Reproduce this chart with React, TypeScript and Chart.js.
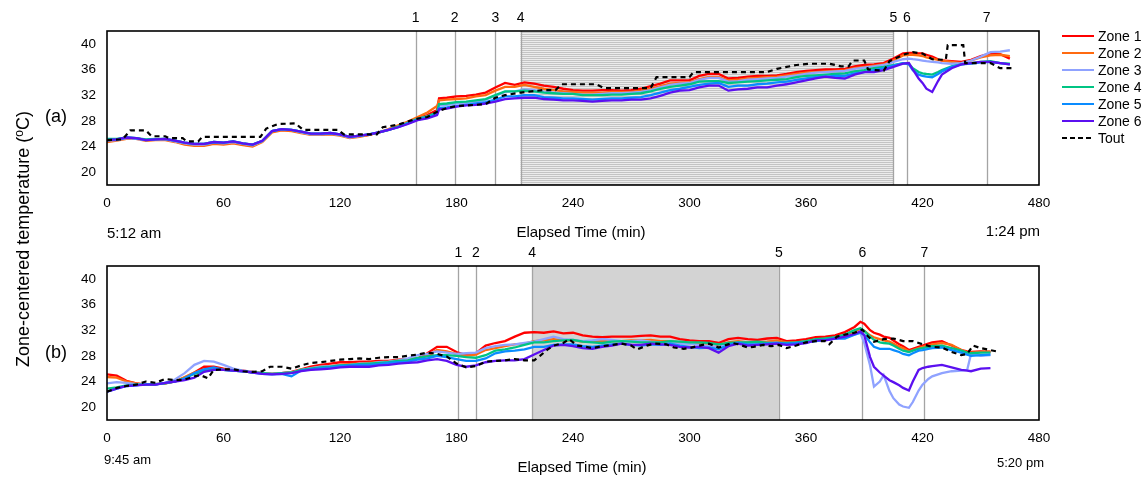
import React, { useEffect, useRef } from "react";
import { Chart, registerables } from "chart.js";

Chart.register(...registerables);

const FONT = "Arial, 'Liberation Sans', Helvetica, sans-serif";

const zoneNames = ["Zone 1", "Zone 2", "Zone 3", "Zone 4", "Zone 5", "Zone 6"];
const zoneColors = ["#ff0000", "#ff6a10", "#8fa2ff", "#00c483", "#0a8cff", "#5b10f0"];
const toutName = "Tout";

const xTicks = [0, 60, 120, 180, 240, 300, 360, 420, 480];
const yTicks = [20, 24, 28, 32, 36, 40];

// ---------- panel (a) ----------
const timesA = [
  0, 5, 10, 15, 20, 25, 30, 35, 40, 45,
  50, 55, 60, 65, 70, 75, 80, 85, 90, 95,
  100, 105, 110, 115, 120, 125, 130, 135, 140, 145,
  150, 155, 160, 165, 170, 171,
  175, 180, 185, 190, 195, 200, 205, 210, 215, 220,
  225, 230, 235, 240, 245, 250, 255, 260, 265, 270,
  275, 280, 285, 290, 295, 300, 305, 310, 315, 320,
  325, 330, 335, 340, 345, 350, 355, 360, 365, 370,
  375, 380, 385, 390, 395, 400, 405, 410,
  413, 415, 418, 420, 422, 425, 428, 430,
  435, 440, 445, 450, 455, 460, 465,
];
const zone1A = [
  25.0, 25.1, 25.3, 25.3, 25.0, 25.1, 25.1, 24.8, 24.4, 24.2,
  24.2, 24.5, 24.4, 24.6, 24.3, 24.1, 24.8, 26.3, 26.6, 26.5,
  26.2, 25.9, 25.9, 26.0, 25.8, 25.4, 25.6, 25.8, 26.2, 26.6,
  27.1, 27.7, 28.4, 28.9, 29.7, 31.5,
  31.6, 31.8, 31.9, 32.1, 32.4, 33.2, 33.9, 33.6, 34.0, 33.8,
  33.5, 33.3, 33.0, 32.8, 32.7, 32.7, 32.8, 32.8, 32.7, 32.8,
  33.0, 33.4, 33.8, 34.3, 34.3, 34.3, 35.0, 35.3, 35.3, 34.6,
  34.7, 34.9, 35.0, 35.0, 35.1, 35.3, 35.6, 35.8, 35.9, 36.0,
  36.0, 36.1, 36.5, 36.7, 36.8, 37.0, 37.7, 38.5,
  38.6, 38.6, 38.5, 38.5, 38.3, 38.0, 37.6, 37.4,
  37.3, 37.2, 37.5, 38.1, 38.5, 38.4, 37.7,
];
const zone2A = [
  24.7, 24.9, 25.2, 25.2, 24.9, 25.0, 25.0, 24.7, 24.3, 24.1,
  24.1, 24.4, 24.3, 24.5, 24.2, 24.0, 24.7, 26.2, 26.5, 26.4,
  26.1, 25.8, 25.8, 25.9, 25.7, 25.3, 25.5, 25.8, 26.2, 26.7,
  27.3, 27.9, 28.6, 29.3, 30.3, 31.2,
  31.3, 31.4, 31.5, 31.8, 32.0, 32.7, 33.3, 33.3, 33.6, 33.3,
  33.0, 32.8, 32.6, 32.5, 32.4, 32.4, 32.4, 32.5, 32.5, 32.5,
  32.7, 33.0, 33.4, 33.8, 33.9, 34.0, 34.5, 34.8, 34.8, 34.3,
  34.4, 34.6, 34.7, 34.8, 34.9, 35.1, 35.3, 35.5, 35.6, 35.7,
  35.8, 35.9, 36.2, 36.4, 36.6, 36.8, 37.4, 38.2,
  38.3, 38.3, 38.2, 38.1, 37.9, 37.7, 37.5, 37.4,
  37.2, 37.0, 37.4, 37.9, 38.2, 38.3, 38.1,
];
const zone3A = [
  24.9, 25.0, 25.3, 25.2, 25.0, 25.1, 25.1, 24.8, 24.5, 24.3,
  24.3, 24.6, 24.5, 24.7, 24.4, 24.2, 24.8, 26.4, 26.7, 26.6,
  26.2, 25.9, 25.9, 26.0, 25.8, 25.4, 25.6, 25.9, 26.2, 26.6,
  27.1, 27.7, 28.3, 28.7, 29.2, 30.4,
  30.5, 30.7, 30.8, 31.0, 31.3, 31.9, 32.5, 32.6, 32.9, 32.8,
  32.5, 32.4, 32.3, 32.2, 32.1, 32.1, 32.2, 32.3, 32.3, 32.4,
  32.5, 32.8, 33.2, 33.6, 33.8, 33.9, 34.4, 34.7, 34.7, 34.1,
  34.2, 34.4, 34.5, 34.6, 34.7, 34.9, 35.1, 35.3, 35.5, 35.6,
  35.7, 35.8, 36.1, 36.3, 36.5, 36.7, 37.2, 37.6,
  37.7, 37.6, 37.5, 37.4, 37.3, 37.2, 37.1, 37.0,
  36.9, 37.0, 37.4, 38.0, 38.7, 38.8, 39.0,
];
const zone4A = [
  25.2, 25.2, 25.4, 25.3, 25.1, 25.2, 25.2, 24.9, 24.6, 24.4,
  24.4, 24.7, 24.6, 24.8, 24.5, 24.3, 24.9, 26.4, 26.7, 26.6,
  26.3, 26.0, 26.0, 26.1, 25.9, 25.5, 25.7, 25.9, 26.2, 26.6,
  27.1, 27.7, 28.3, 28.7, 29.3, 30.6,
  30.7, 30.9, 31.0, 31.2, 31.4, 32.0, 32.6, 32.6, 32.7, 32.6,
  32.4, 32.3, 32.2, 32.2, 32.0, 32.0, 32.0, 32.1, 32.1, 32.2,
  32.3, 32.6, 33.0, 33.3, 33.5, 33.7, 34.1, 34.2, 34.2, 33.9,
  34.0, 34.1, 34.2, 34.3, 34.4, 34.5, 34.8, 35.0, 35.1, 35.2,
  35.3, 35.4, 35.7, 35.9, 36.2, 36.4, 36.7, 37.0,
  36.9, 36.2, 35.6, 35.4, 35.3, 35.2, 35.6, 35.9,
  36.5, 36.8, 37.0, 37.2, 37.3, 37.0, 36.9,
];
const zone5A = [
  25.0, 25.1, 25.4, 25.3, 25.0, 25.1, 25.2, 24.9, 24.6, 24.4,
  24.4, 24.7, 24.6, 24.8, 24.5, 24.3, 24.9, 26.4, 26.7, 26.6,
  26.3, 26.0, 26.0, 26.1, 25.9, 25.5, 25.7, 25.9, 26.2, 26.6,
  27.0, 27.6, 28.2, 28.5, 29.0, 30.0,
  30.1, 30.3, 30.5, 30.7, 30.9, 31.3, 31.8, 31.8, 32.0, 32.0,
  31.7, 31.6, 31.5, 31.5, 31.4, 31.3, 31.4, 31.5, 31.5, 31.6,
  31.7, 32.0, 32.4, 32.8, 33.0, 33.3, 33.6, 33.8, 33.9, 33.3,
  33.5, 33.5, 33.7, 33.8, 34.0, 34.1, 34.4, 34.6, 34.8, 34.9,
  35.0, 35.0, 35.4, 35.6, 35.9, 36.2, 36.6, 37.0,
  36.8, 35.9, 35.2, 35.0, 34.9, 34.8, 35.3, 35.7,
  36.4, 36.8, 36.9, 37.1, 37.2, 37.0, 36.8,
];
const zone6A = [
  25.0, 25.1, 25.4, 25.3, 25.0, 25.1, 25.2, 24.9, 24.6, 24.4,
  24.4, 24.7, 24.6, 24.8, 24.5, 24.3, 24.9, 26.4, 26.7, 26.6,
  26.3, 26.0, 26.0, 26.1, 25.9, 25.5, 25.7, 25.9, 26.2, 26.6,
  27.0, 27.5, 28.1, 28.4, 28.9, 29.8,
  29.9, 30.2, 30.4, 30.5, 30.7, 31.0, 31.4, 31.5, 31.6, 31.6,
  31.4, 31.3, 31.2, 31.2, 31.1, 31.0, 31.1, 31.2, 31.2, 31.3,
  31.3, 31.5, 31.9, 32.4, 32.7, 32.8, 33.2, 33.5, 33.5, 32.7,
  32.9, 33.0, 33.2, 33.2, 33.5, 33.7, 34.0, 34.3, 34.6, 34.9,
  34.7, 34.6, 35.2, 35.6, 35.6, 35.9, 36.4, 36.9,
  37.0, 36.0, 34.6, 33.9, 33.0, 32.5, 34.2, 35.2,
  36.2, 36.8, 37.0, 37.2, 37.2, 37.0, 36.8,
];
const toutTimesA = [
  0, 8, 12, 20, 23, 30, 32, 39, 41, 47,
  49, 79, 82, 88, 97, 101, 119, 122, 139, 142,
  150, 159, 165, 170, 175, 180, 195, 200, 205, 213,
  225, 231, 234, 252, 256, 280, 283, 300, 302, 340,
  345, 355, 362, 372, 378, 382, 384, 390, 392, 400,
  403, 410, 415, 420, 425, 432, 433, 441, 442, 455,
  460, 466,
];
const toutA = [
  25.0, 25.1, 26.5, 26.5, 25.6, 25.6, 25.3, 25.3, 24.8, 24.8,
  25.5, 25.5, 26.8, 27.5, 27.6, 26.6, 26.6, 25.9, 25.9, 27.0,
  27.4, 28.3, 28.6, 29.4, 30.0, 30.3, 30.6, 31.6, 32.0, 32.4,
  32.8, 32.8, 33.7, 33.7, 33.1, 33.1, 34.8, 34.8, 35.6, 35.6,
  36.1, 36.7, 36.9, 36.9, 36.5, 36.5, 37.4, 37.4, 36.0, 35.8,
  37.3, 38.3, 38.7, 38.5, 37.6, 37.5, 39.8, 39.8, 37.0, 37.0,
  36.2, 36.2,
];
const eventsA = [159, 179, 200, 213, 405, 412, 453];
const eventLabelsA = ["1", "2", "3", "4", "5", "6", "7"];
const shadeA = [213, 405];

// ---------- panel (b) ----------
const timesB = [
  0, 5, 10, 15, 20, 25, 30, 35, 40, 45,
  50, 55, 60, 65, 70, 75, 80, 85, 90, 95,
  100, 105, 110, 115, 120, 125, 130, 135, 140, 145,
  150, 155, 160, 165, 170, 175, 180, 185, 190, 195,
  200, 205, 210, 215, 220, 225, 230, 235, 240, 245,
  250, 255, 260, 265, 270, 275, 280, 285, 290, 295,
  300, 305, 310, 315, 320, 325, 330, 335, 340, 345,
  350, 355, 360, 365, 370, 375, 380, 385,
  388, 390, 393, 395, 398, 400, 403, 405, 408, 410, 413, 415, 418, 420, 423, 425,
  430, 435, 440, 443, 445, 450, 455,
];
const zone1B = [
  25.1, 24.9, 24.1, 23.7, 23.5, 23.6, 23.7, 24.0, 24.6, 25.4,
  26.3, 26.3, 26.0, 25.8, 25.7, 25.5, 25.3, 25.2, 25.3, 25.5,
  25.9, 26.3, 26.6, 26.8, 27.0, 27.0, 27.1, 27.1, 27.2, 27.2,
  27.4, 27.5, 27.6, 28.4, 29.4, 29.4, 28.6, 28.1, 28.4, 29.6,
  30.0, 30.3, 31.0, 31.6, 31.7, 31.6, 31.8, 31.5, 31.6, 31.2,
  31.0, 30.9, 31.0, 31.0, 31.0, 31.1, 31.2, 31.0, 31.0, 30.6,
  30.4, 30.3, 30.3, 30.0, 30.6, 30.8, 30.6, 30.5, 30.7, 30.8,
  30.3, 30.4, 30.6, 30.9, 31.0, 31.2, 31.7, 32.5,
  33.3, 33.0, 32.0, 31.6, 31.3, 31.0, 30.8, 30.4, 29.8, 29.5, 28.9, 29.1, 29.4, 29.6, 29.9, 30.1,
  30.3, 29.6, 28.9, 28.7, 28.6, 28.7, 28.6,
];
const zone2B = [
  24.7, 24.6, 24.0, 23.7, 23.5, 23.6, 23.7, 24.0, 24.7, 25.4,
  25.9, 26.0, 25.9, 25.8, 25.6, 25.4, 25.3, 25.2, 25.3, 25.4,
  25.8, 26.1, 26.3, 26.4, 26.6, 26.7, 26.8, 26.9, 27.0, 27.1,
  27.3, 27.4, 27.6, 28.0, 28.9, 28.7, 28.3, 28.0, 28.2, 28.9,
  29.2, 29.5, 29.8, 29.9, 30.3, 30.4, 30.6, 30.4, 30.4, 30.2,
  30.2, 30.3, 30.3, 30.3, 30.4, 30.4, 30.5, 30.3, 30.3, 30.1,
  30.0, 29.9, 29.9, 29.7, 30.1, 30.3, 30.1, 30.1, 30.2, 30.4,
  30.1, 30.1, 30.3, 30.5, 30.6, 30.8, 31.2, 31.8,
  32.2, 31.9, 31.2, 30.9, 30.6, 30.4, 30.2, 29.9, 29.4, 29.2, 28.7, 28.9, 29.2, 29.4, 29.6, 29.8,
  30.0, 29.7, 28.9, 28.6, 28.5, 28.6, 28.7,
];
const zone3B = [
  23.7, 23.9, 23.8, 23.6, 23.5, 23.6, 23.8, 24.3, 25.3, 26.6,
  27.2, 27.1, 26.6, 26.0, 25.7, 25.5, 25.3, 25.2, 25.3, 25.4,
  25.8, 26.1, 26.3, 26.4, 26.5, 26.6, 26.8, 26.8, 27.0, 27.1,
  27.3, 27.6, 28.1, 28.3, 28.7, 28.5, 28.3, 28.4, 28.5, 29.2,
  29.5, 29.7, 29.8, 30.0, 30.2, 30.6, 31.0, 30.6, 30.5, 30.3,
  30.4, 30.6, 30.5, 30.3, 30.3, 30.4, 30.2, 30.1, 30.0, 29.9,
  29.9, 29.7, 29.5, 29.4, 29.9, 30.1, 30.0, 29.9, 30.0, 30.0,
  29.9, 30.0, 30.2, 30.4, 30.5, 30.7, 31.0, 31.3,
  31.6, 30.0, 26.5, 23.2, 24.0, 25.0, 22.5, 21.4, 20.4, 20.1, 19.9, 20.8, 22.6, 23.5, 24.4, 24.8,
  25.3, 25.6, 25.7, 25.8, 28.3, 28.0, 28.1,
];
const zone4B = [
  22.9, 23.1, 23.4, 23.5, 23.5, 23.6, 23.7, 24.0, 24.5, 25.2,
  25.6, 25.8, 25.8, 25.7, 25.6, 25.4, 25.3, 25.2, 25.3, 25.4,
  25.8, 26.0, 26.2, 26.3, 26.5, 26.6, 26.7, 26.8, 26.9, 27.0,
  27.2, 27.3, 27.7, 27.9, 28.1, 28.1, 28.0, 27.8, 27.7, 28.1,
  28.8, 29.0, 29.3, 29.7, 30.1, 30.1, 30.3, 30.4, 30.5, 30.2,
  30.1, 30.0, 30.2, 30.3, 30.2, 30.1, 30.1, 30.1, 30.3, 30.2,
  30.1, 30.1, 30.0, 29.8, 30.0, 30.1, 30.1, 30.2, 30.0, 30.0,
  30.0, 30.1, 30.3, 30.6, 30.7, 30.9, 31.3, 32.0,
  32.3, 31.9, 31.0, 30.5, 30.1, 30.0, 29.9, 29.6, 29.1, 28.8, 28.6, 28.8, 29.1, 29.2, 29.4, 29.5,
  29.6, 29.2, 28.8, 28.5, 28.4, 28.5, 28.5,
];
const zone5B = [
  22.4, 22.9, 23.3, 23.4, 23.6, 23.5, 23.8, 24.0, 24.5, 25.3,
  25.9, 26.2, 25.8, 25.7, 25.6, 25.4, 25.2, 25.1, 25.2, 24.8,
  25.7, 25.9, 26.1, 26.2, 26.4, 26.5, 26.6, 26.6, 26.7, 26.9,
  27.0, 27.1, 27.4, 27.6, 28.0, 27.8, 27.5, 27.2, 27.2, 27.6,
  28.4, 28.7, 28.8, 29.0, 29.4, 29.4, 29.7, 29.8, 29.8, 29.5,
  29.4, 29.6, 29.8, 29.9, 29.7, 29.6, 29.8, 29.7, 29.9, 29.6,
  29.4, 29.2, 29.3, 29.0, 29.7, 30.0, 29.8, 29.8, 29.9, 30.0,
  29.9, 30.0, 30.1, 30.3, 30.5, 30.7, 30.7, 31.3,
  31.6, 31.3, 30.1, 29.4, 29.1, 29.1, 29.1, 28.9, 28.6, 28.3, 28.1, 28.4, 28.8, 28.9, 29.1, 29.2,
  29.3, 28.9, 28.5, 28.2, 28.0, 28.1, 28.2,
];
const zone6B = [
  22.4, 22.9, 23.3, 23.4, 23.5, 23.5, 23.8, 24.0, 24.2, 24.6,
  25.5, 25.8, 25.8, 25.7, 25.6, 25.4, 25.2, 25.1, 25.2, 25.3,
  25.6, 25.8, 25.9, 26.0, 26.2, 26.3, 26.3, 26.3, 26.5, 26.6,
  26.8, 26.9, 27.0, 27.3, 27.5, 27.2, 26.6, 26.3, 26.5, 27.0,
  27.2, 27.3, 27.3, 27.5, 28.2, 28.9, 29.6, 29.7, 29.5, 29.2,
  29.1, 29.4, 29.6, 29.9, 29.7, 29.7, 29.9, 29.8, 29.7, 29.4,
  29.3, 29.4, 29.2, 28.5, 29.5, 29.9, 29.6, 29.7, 29.8, 29.9,
  29.7, 29.8, 30.0, 30.4, 30.4, 30.7, 31.0, 31.4,
  31.8, 31.2, 27.8, 26.3, 25.4, 24.9, 24.2, 23.9, 23.4, 23.0, 22.6, 24.0, 25.8, 26.1, 26.3, 26.4,
  26.6, 26.2, 25.8, 25.7, 25.6, 26.0, 26.1,
];
const toutTimesB = [
  0, 5, 10, 15, 20, 25, 30, 35, 40, 45,
  48, 52, 55, 60, 65, 70, 75, 80, 84, 90,
  95, 100, 105, 110, 115, 120, 125, 130, 135, 140,
  145, 150, 155, 160, 165, 170, 175, 180, 185, 190,
  195, 200, 205, 210, 215, 220, 223, 227, 230, 235,
  238, 242, 245, 250, 255, 260, 265, 270, 273, 278,
  282, 288, 292, 297, 300, 305, 310, 315, 318, 322,
  325, 330, 333, 338, 342, 346, 350, 355, 360, 365,
  370, 372, 376, 380, 385, 389, 392, 395, 400, 405,
  410, 415, 420, 425, 430, 435, 440, 443, 446, 450,
  458,
];
const toutB = [
  22.4, 23.0, 23.3, 23.5, 24.0, 23.8, 24.4, 24.2, 24.3, 24.8,
  25.0, 24.5, 25.8, 25.9, 25.9, 25.6, 25.5, 25.6, 26.3, 26.3,
  26.0, 26.5, 26.9, 27.0, 27.2, 27.4, 27.5, 27.6, 27.5, 27.7,
  27.8, 27.8, 28.0, 28.2, 28.5, 28.3, 27.9, 26.8, 26.2, 26.4,
  27.1, 27.2, 27.3, 27.5, 27.3, 27.3, 28.0, 29.0, 29.6, 30.0,
  30.6, 29.6, 29.5, 29.2, 29.5, 29.7, 29.9, 29.6, 29.0, 29.6,
  29.9, 29.8, 29.3, 29.1, 29.2, 29.6, 29.9, 29.3, 29.6, 30.0,
  29.8, 29.3, 29.4, 29.7, 29.5, 29.7, 29.2, 29.6, 30.1, 30.3,
  30.3, 29.8, 31.0, 31.3, 31.6, 32.1, 31.0, 30.2, 30.6, 30.7,
  30.3, 30.3, 29.8, 29.4, 29.3, 28.6, 28.1, 28.3, 29.6, 29.2,
  28.7,
];
const eventsB = [181, 190, 219, 346, 389, 421];
const eventLabelsB = ["1", "2", "4", "5", "6", "7"];
const shadeB = [219, 346];

// ---------- layout constants ----------
const W = 1146;
const PLOT_LEFT = 107;
const PLOT_RIGHT = 1039;
const PLOT_TOP_OFFSET = 31;
const PLOT_BOTTOM_OFFSET = 185;

type PanelProps = {
  top: number;
  height: number;
  times: number[];
  zones: number[][];
  toutTimes: number[];
  tout: number[];
  events: number[];
  eventLabels: string[];
  shade: number[];
  hatch: boolean;
};

function Panel(props: PanelProps) {
  const ref = useRef<HTMLCanvasElement>(null);
  useEffect(() => {
    const { height, times, zones, toutTimes, tout, events, eventLabels, shade, hatch } = props;
    const canvas = ref.current!;
    const datasets: any[] = [
      {
        label: toutName,
        data: toutTimes.map((t, i) => ({ x: t, y: tout[i] })),
        borderColor: "#000000",
        borderWidth: 2.2,
        borderDash: [5, 4],
        pointRadius: 0,
        fill: false,
        order: 0,
      },
      ...zones.map((vals, k) => ({
        label: zoneNames[k],
        data: times.map((t, i) => ({ x: t, y: vals[i] })),
        borderColor: zoneColors[k],
        borderWidth: 2.3,
        pointRadius: 0,
        fill: false,
        order: 6 - k,
      })),
    ];
    const decor = {
      id: "panelDecor",
      beforeDatasetsDraw(chart: any) {
        const { ctx, chartArea, scales } = chart;
        const { top, bottom } = chartArea;
        const x = scales.x;
        ctx.save();
        const x0 = x.getPixelForValue(shade[0]);
        const x1 = x.getPixelForValue(shade[1]);
        if (hatch) {
          ctx.fillStyle = "#ececec";
          ctx.fillRect(x0, top, x1 - x0, bottom - top);
          ctx.fillStyle = "#c4c4c4";
          for (let y = Math.ceil(top) + 1; y < bottom; y += 2) ctx.fillRect(x0, y, x1 - x0, 1);
        } else {
          ctx.fillStyle = "#d3d3d3";
          ctx.fillRect(x0, top, x1 - x0, bottom - top);
        }
        ctx.strokeStyle = "#a4a4a4";
        ctx.lineWidth = 1.3;
        events.forEach((e) => {
          const px = Math.round(x.getPixelForValue(e)) + 0.5;
          ctx.beginPath();
          ctx.moveTo(px, top);
          ctx.lineTo(px, bottom);
          ctx.stroke();
        });
        ctx.restore();
      },
      afterDraw(chart: any) {
        const { ctx, chartArea, scales } = chart;
        const { top, bottom, left, right } = chartArea;
        const x = scales.x;
        ctx.save();
        ctx.fillStyle = "#000";
        ctx.font = `14px ${FONT}`;
        ctx.textAlign = "center";
        ctx.textBaseline = "middle";
        events.forEach((e, i) => {
          ctx.fillText(eventLabels[i], x.getPixelForValue(e), top - 13);
        });
        ctx.strokeStyle = "#000";
        ctx.lineWidth = 1.6;
        ctx.strokeRect(left, top, right - left, bottom - top);
        ctx.restore();
      },
    };
    const chart = new Chart(canvas, {
      type: "line",
      data: { datasets },
      options: {
        animation: false,
        responsive: false,
        devicePixelRatio: 1,
        layout: { padding: { left: 0, right: W - PLOT_RIGHT, top: PLOT_TOP_OFFSET, bottom: 0 } },
        plugins: { legend: { display: false }, tooltip: { enabled: false } },
        elements: { line: { tension: 0 } },
        scales: {
          x: {
            type: "linear",
            min: 0,
            max: 480,
            grid: { display: false, drawTicks: false },
            border: { display: false },
            ticks: {
              color: "#000",
              font: { family: FONT, size: 13.5 },
              padding: 10,
              maxRotation: 0,
              autoSkip: false,
            },
            afterBuildTicks: (s: any) => {
              s.ticks = xTicks.map((v) => ({ value: v }));
            },
            afterFit: (s: any) => {
              s.height = height - PLOT_BOTTOM_OFFSET;
            },
          },
          y: {
            type: "linear",
            min: 18,
            max: 42,
            grid: { display: false, drawTicks: false },
            border: { display: false },
            ticks: {
              color: "#000",
              font: { family: FONT, size: 13.5 },
              padding: 11,
            },
            afterBuildTicks: (s: any) => {
              s.ticks = yTicks.map((v) => ({ value: v }));
            },
            afterFit: (s: any) => {
              s.width = PLOT_LEFT;
            },
          },
        },
      } as any,
      plugins: [decor],
    });
    return () => chart.destroy();
  }, []);
  return (
    <canvas
      ref={ref}
      width={W}
      height={props.height}
      style={{ position: "absolute", left: 0, top: props.top, width: W, height: props.height }}
    />
  );
}

function Text(p: { x: number; y: number; size: number; anchor?: "left" | "center" | "right"; children: any }) {
  const a = p.anchor || "center";
  const tx = a === "center" ? "-50%" : a === "left" ? "0" : "-100%";
  return (
    <div
      style={{
        position: "absolute",
        left: p.x,
        top: p.y,
        transform: `translate(${tx},-50%)`,
        fontSize: p.size,
        fontFamily: FONT,
        lineHeight: 1,
        whiteSpace: "nowrap",
        color: "#000",
      }}
    >
      {p.children}
    </div>
  );
}

export default function App() {
  const legendItems = [
    ...zoneNames.map((n, i) => ({ name: n, color: zoneColors[i], dashed: false })),
    { name: toutName, color: "#000", dashed: true },
  ];
  return (
    <div
      style={{
        position: "absolute",
        left: 0,
        top: 0,
        width: W,
        height: 477,
        background: "#fff",
        overflow: "hidden",
      }}
    >
      <Panel
        top={0}
        height={235}
        times={timesA}
        zones={[zone1A, zone2A, zone3A, zone4A, zone5A, zone6A]}
        toutTimes={toutTimesA}
        tout={toutA}
        events={eventsA}
        eventLabels={eventLabelsA}
        shade={shadeA}
        hatch={true}
      />
      <Panel
        top={235}
        height={242}
        times={timesB}
        zones={[zone1B, zone2B, zone3B, zone4B, zone5B, zone6B]}
        toutTimes={toutTimesB}
        tout={toutB}
        events={eventsB}
        eventLabels={eventLabelsB}
        shade={shadeB}
        hatch={false}
      />
      <div
        style={{
          position: "absolute",
          left: 22,
          top: 239,
          transform: "translate(-50%,-50%) rotate(-90deg)",
          fontSize: 18,
          fontFamily: FONT,
          whiteSpace: "nowrap",
          lineHeight: 1,
          color: "#000",
        }}
      >
        Zone-centered temperature (<span style={{ fontSize: 12, verticalAlign: "6px" }}>o</span>C)
      </div>
      <Text x={45} y={116} size={18} anchor="left">(a)</Text>
      <Text x={45} y={352} size={18} anchor="left">(b)</Text>
      <Text x={107} y={232} size={15} anchor="left">5:12 am</Text>
      <Text x={581} y={231} size={15}>Elapsed Time (min)</Text>
      <Text x={1040} y={230} size={15} anchor="right">1:24 pm</Text>
      <Text x={104} y={459} size={13} anchor="left">9:45 am</Text>
      <Text x={582} y={466} size={15}>Elapsed Time (min)</Text>
      <Text x={1044} y={462} size={13} anchor="right">5:20 pm</Text>
      {legendItems.map((it, i) => (
        <React.Fragment key={it.name}>
          <div
            style={{
              position: "absolute",
              left: 1062,
              top: 36 + 17 * i - 1.25,
              width: 32,
              height: 2.5,
              background: it.dashed
                ? `repeating-linear-gradient(to right, #000 0px, #000 5px, transparent 5px, transparent 8px)`
                : it.color,
            }}
          />
          <Text x={1098} y={36 + 17 * i} size={14} anchor="left">
            {it.name}
          </Text>
        </React.Fragment>
      ))}
    </div>
  );
}
